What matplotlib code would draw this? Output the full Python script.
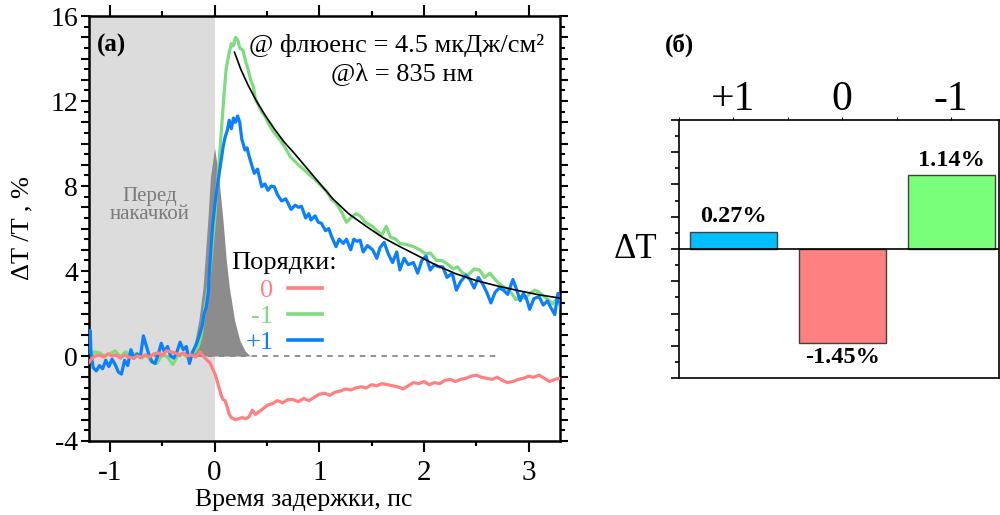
import numpy as np
import matplotlib
matplotlib.use("Agg")
import matplotlib.pyplot as plt
from matplotlib.ticker import MultipleLocator, FuncFormatter
from matplotlib.lines import Line2D

plt.rcParams['font.family'] = ['Liberation Serif', 'DejaVu Serif']
plt.rcParams['axes.unicode_minus'] = False

# --- данные (a): кривые ΔT/T, %, по времени задержки, пс ---
green_pts = [(-1.19, -0.1), (-1.15, 0.2), (-1.1, 0.15), (-1.05, 0.0), (-1.0, 0.1), (-0.95, 0.25),
             (-0.9, -0.05), (-0.85, 0.2), (-0.8, 0.05), (-0.75, 0.1), (-0.7, -0.1), (-0.65, 0.05),
             (-0.6, -0.3), (-0.55, -0.35), (-0.5, 0.1), (-0.45, -0.05), (-0.4, -0.4), (-0.35, 0.05),
             (-0.3, 0.1), (-0.25, -0.1), (-0.2, 0.15), (-0.16, 0.4), (-0.13, 0.9), (-0.1, 2.0),
             (-0.06, 3.3), (-0.03, 4.8), (0.0, 6.4), (0.03, 8.3), (0.06, 10.3), (0.09, 12.3),
             (0.11, 13.5), (0.14, 14.3), (0.16, 14.7), (0.18, 14.6), (0.2, 15.0), (0.22, 14.9),
             (0.24, 14.5), (0.27, 14.4), (0.3, 13.8), (0.32, 13.5), (0.35, 12.9), (0.37, 12.7),
             (0.39, 12.1), (0.41, 11.9), (0.45, 11.5), (0.48, 11.3), (0.52, 10.9), (0.57, 10.5),
             (0.62, 10.2), (0.67, 9.85), (0.72, 9.4), (0.76, 9.2), (0.81, 8.95), (0.86, 8.75),
             (0.9, 8.55), (0.94, 8.4), (0.98, 8.2), (1.02, 8.0), (1.07, 7.75), (1.12, 7.35),
             (1.16, 7.2), (1.21, 6.8), (1.26, 6.3), (1.3, 6.5), (1.35, 6.7), (1.39, 6.6),
             (1.44, 6.3), (1.51, 6.1), (1.55, 5.9), (1.6, 5.7), (1.64, 6.1), (1.68, 5.6),
             (1.73, 5.5), (1.77, 5.3), (1.83, 5.25), (1.9, 5.15), (1.96, 5.0), (2.02, 4.8),
             (2.06, 4.85), (2.12, 4.5), (2.17, 4.5), (2.22, 4.35), (2.28, 4.1), (2.32, 4.2),
             (2.37, 3.9), (2.42, 3.8), (2.48, 4.1), (2.53, 4.05), (2.58, 3.7), (2.63, 3.9),
             (2.68, 3.6), (2.72, 3.4), (2.78, 3.2), (2.83, 3.0), (2.88, 2.65), (2.93, 2.8),
             (2.97, 2.7), (3.01, 2.95), (3.06, 3.1), (3.1, 3.0), (3.15, 2.8), (3.2, 2.6),
             (3.23, 2.45), (3.27, 2.7), (3.31, 2.65)]

blue_pts = [(-1.2, 0.2), (-1.19, 1.2), (-1.18, 0.1), (-1.16, -0.55), (-1.13, -0.7), (-1.1, -0.45),
            (-1.07, -0.6), (-1.04, -0.2), (-1.01, -0.5), (-0.98, -0.15), (-0.95, -0.4), (-0.92, -0.75),
            (-0.89, -0.85), (-0.86, -0.2), (-0.83, -0.45), (-0.8, 0.3), (-0.77, -0.1), (-0.74, 0.1),
            (-0.71, -0.05), (-0.68, 0.95), (-0.66, 0.6), (-0.63, 0.1), (-0.6, -0.25), (-0.57, -0.35),
            (-0.54, 0.05), (-0.51, 0.6), (-0.48, 0.2), (-0.45, 0.45), (-0.42, 0.0), (-0.39, -0.1),
            (-0.36, 0.2), (-0.33, 0.65), (-0.3, 0.3), (-0.27, 0.45), (-0.24, -0.35), (-0.21, 0.2),
            (-0.18, 0.5), (-0.15, 0.9), (-0.12, 1.4), (-0.1, 2.0), (-0.08, 2.3), (-0.06, 3.0),
            (-0.05, 4.0), (-0.02, 6.1), (0.0, 7.0), (0.02, 7.8), (0.05, 8.8), (0.08, 9.8),
            (0.1, 10.3), (0.12, 10.6), (0.14, 11.1), (0.16, 10.7), (0.18, 11.2), (0.2, 11.0),
            (0.22, 11.3), (0.24, 11.0), (0.26, 10.2), (0.29, 9.7), (0.31, 9.8), (0.33, 9.4),
            (0.36, 8.9), (0.38, 8.6), (0.41, 8.8), (0.45, 7.97), (0.48, 8.1), (0.51, 7.8),
            (0.54, 8.0), (0.57, 7.97), (0.6, 7.6), (0.64, 7.3), (0.68, 7.4), (0.73, 6.9),
            (0.77, 7.1), (0.8, 7.0), (0.83, 7.05), (0.87, 6.5), (0.9, 6.7), (0.92, 6.4),
            (0.96, 6.6), (0.99, 6.3), (1.02, 6.25), (1.06, 5.9), (1.09, 6.0), (1.12, 5.6),
            (1.16, 5.15), (1.19, 5.5), (1.23, 5.3), (1.26, 5.5), (1.3, 5.0), (1.33, 5.5),
            (1.36, 5.4), (1.39, 5.45), (1.42, 4.9), (1.46, 5.2), (1.51, 5.0), (1.55, 4.6),
            (1.58, 5.1), (1.62, 5.35), (1.66, 4.8), (1.7, 4.4), (1.74, 4.9), (1.77, 4.05),
            (1.81, 4.6), (1.85, 4.3), (1.9, 4.4), (1.94, 3.9), (1.98, 4.5), (2.02, 4.7),
            (2.06, 4.05), (2.1, 4.3), (2.14, 4.2), (2.18, 4.2), (2.22, 3.7), (2.27, 3.9),
            (2.31, 3.1), (2.35, 3.5), (2.4, 3.8), (2.44, 3.6), (2.48, 3.2), (2.52, 3.7),
            (2.56, 3.4), (2.6, 3.0), (2.64, 2.5), (2.68, 3.0), (2.72, 3.2), (2.76, 3.1),
            (2.8, 2.9), (2.85, 3.6), (2.88, 3.2), (2.92, 2.6), (2.95, 2.95), (2.98, 2.7),
            (3.01, 2.2), (3.05, 2.7), (3.1, 2.8), (3.14, 2.4), (3.18, 2.6), (3.21, 2.3),
            (3.25, 1.95), (3.28, 2.95), (3.31, 2.2)]

red_pts = [(-1.2, -0.3), (-1.17, -0.1), (-1.14, 0.0), (-1.1, 0.05), (-1.06, -0.05), (-1.02, 0.1),
           (-0.98, 0.0), (-0.94, 0.05), (-0.9, -0.1), (-0.86, 0.05), (-0.82, -0.05), (-0.78, -0.1),
           (-0.74, 0.0), (-0.7, -0.05), (-0.66, 0.05), (-0.62, -0.05), (-0.58, 0.1), (-0.54, 0.15),
           (-0.5, 0.0), (-0.46, 0.25), (-0.42, 0.2), (-0.38, 0.15), (-0.34, 0.05), (-0.3, 0.15),
           (-0.26, 0.0), (-0.22, 0.05), (-0.18, -0.05), (-0.14, 0.2), (-0.1, -0.05), (-0.07, -0.2),
           (-0.04, -0.35), (-0.02, -0.6), (0.0, -0.8), (0.02, -1.1), (0.04, -1.45), (0.06, -1.8),
           (0.08, -2.05), (0.1, -2.1), (0.12, -2.4), (0.14, -2.75), (0.16, -2.9), (0.18, -2.95),
           (0.2, -3.0), (0.23, -2.95), (0.26, -2.9), (0.3, -2.95), (0.33, -2.85), (0.36, -2.55),
           (0.39, -2.75), (0.43, -2.6), (0.47, -2.45), (0.51, -2.3), (0.55, -2.25), (0.6, -2.1),
           (0.65, -2.2), (0.7, -2.05), (0.75, -2.05), (0.8, -2.15), (0.85, -2.0), (0.9, -2.1),
           (0.95, -1.95), (1.0, -1.8), (1.05, -1.75), (1.1, -1.85), (1.15, -1.7), (1.2, -1.65),
           (1.25, -1.55), (1.3, -1.6), (1.35, -1.5), (1.4, -1.45), (1.45, -1.5), (1.5, -1.35),
           (1.55, -1.4), (1.6, -1.3), (1.65, -1.35), (1.7, -1.4), (1.75, -1.45), (1.8, -1.55),
           (1.85, -1.4), (1.9, -1.25), (1.95, -1.3), (2.0, -1.2), (2.05, -1.35), (2.1, -1.25),
           (2.15, -1.3), (2.2, -1.15), (2.25, -1.1), (2.3, -1.2), (2.35, -1.1), (2.4, -1.05),
           (2.45, -0.95), (2.5, -0.9), (2.55, -1.0), (2.6, -1.05), (2.65, -1.1), (2.7, -1.0),
           (2.75, -1.15), (2.8, -1.25), (2.85, -1.2), (2.9, -1.1), (2.95, -1.05), (3.0, -0.95),
           (3.05, -1.0), (3.1, -0.9), (3.15, -1.05), (3.2, -1.2), (3.25, -1.1), (3.3, -1.05)]

fit_pts = [(0.19, 14.3), (0.25, 13.5), (0.32, 12.75), (0.4, 12.0), (0.48, 11.35), (0.57, 10.7),
           (0.66, 10.1), (0.76, 9.55), (0.88, 8.85), (1.0, 8.15), (1.13, 7.4), (1.28, 6.7),
           (1.45, 6.1), (1.6, 5.6), (1.77, 5.15), (1.95, 4.7), (2.12, 4.27), (2.3, 3.88),
           (2.5, 3.55), (2.7, 3.3), (2.9, 3.08), (3.1, 2.88), (3.31, 2.72)]

pulse_t = [-0.24, -0.2, -0.15, -0.11, -0.065, -0.04, 0.0, 0.04, 0.08, 0.11, 0.14, 0.19, 0.24, 0.29, 0.34]
pulse_v = [0, 0.4, 1.7, 3.25, 6.4, 8.4, 9.8, 8.4, 6.4, 4.6, 3.25, 1.7, 0.75, 0.25, 0]

pre_pump = [-1.2, 0.0]
zero_line_t = [-1.2, 2.7]

order_labels = ['0', '-1', '+1']
order_colors = ['#ff8080', '#7ddc7d', '#0a80ff']

# --- данные (б): столбцы ---
bar_labels = ['+1', '0', '-1']
bar_values = [0.27, -1.45, 1.14]
bar_text = ['0.27%', '-1.45%', '1.14%']
bar_colors = ['#00bfff', '#ff8080', '#7aff7a']

green_t, green_v = np.array(green_pts).T
blue_t, blue_v = np.array(blue_pts).T
red_t, red_v = np.array(red_pts).T
fit_t, fit_v = np.array(fit_pts).T

fig = plt.figure(figsize=(10, 5.15), dpi=100)

# ---------- (a) ----------
ax = fig.add_axes([0.089, 0.1437, 0.471, 0.825])
ax.axvspan(pre_pump[0], pre_pump[1], color='#dcdcdc', lw=0, zorder=0)
ax.fill_between(pulse_t, pulse_v, 0, color='#8c8c8c', lw=0, zorder=1)
ax.plot(zero_line_t, [0, 0], color='#888888', lw=1.3, ls=(0, (3, 3)), zorder=1.5)
ax.plot(green_t, green_v, color=order_colors[1], lw=2.3, zorder=2)
ax.plot(blue_t, blue_v, color=order_colors[2], lw=2.3, zorder=3)
ax.plot(red_t, red_v, color=order_colors[0], lw=2.3, zorder=4)
ax.plot(fit_t, fit_v, color='black', lw=1.2, zorder=5)

ax.set_xlim(-1.2, 3.3)
ax.set_ylim(-4, 16)
ax.set_xticks([-1, 0, 1, 2, 3])
ax.xaxis.set_minor_locator(MultipleLocator(0.5))
ax.yaxis.set_major_locator(MultipleLocator(1))
ax.yaxis.set_minor_locator(MultipleLocator(0.5))
ax.yaxis.set_major_formatter(FuncFormatter(lambda v, p: f'{v:.0f}' if round(v) % 4 == 0 else ''))
ax.tick_params(which='both', direction='out', top=True, right=True, width=1.5)
ax.tick_params(which='major', length=6, labelsize=20, pad=2)
ax.tick_params(which='minor', length=3.5)
ax.tick_params(axis='x', which='major', length=8, labelsize=21, pad=6)
for s in ax.spines.values():
    s.set_linewidth(1.8)

ax.set_xlabel('Время задержки, пс', fontsize=18.5)
ax.xaxis.set_label_coords(0.456, -0.112)
ax.set_ylabel('ΔT /T , %', fontsize=19)
ax.yaxis.set_label_coords(-0.118, 0.5)

ax.text(0.017, 0.932, '(a)', transform=ax.transAxes, fontsize=18, fontweight='bold',
        ha='left', va='center')
ax.text(0.654, 0.932, '@ флюенс = 4.5 мкДж/см²', transform=ax.transAxes, fontsize=19,
        ha='center', va='center')
ax.text(0.665, 0.866, '@λ = 835 нм', transform=ax.transAxes, fontsize=19,
        ha='center', va='center')
ax.text(0.1295, 0.555, 'Перед\nнакачкой', transform=ax.transAxes, fontsize=15,
        color='#7a7a7a', ha='center', va='center', linespacing=0.95)

# легенда: заголовок отдельно, строки выровнены вправо
ax.text(0.302, 0.419, 'Порядки:', transform=ax.transAxes, fontsize=19,
        ha='left', va='center')
handles = [Line2D([], [], color=c, lw=2.6) for c in order_colors]
leg = ax.legend(handles, order_labels, loc='upper right',
                bbox_to_anchor=(0.495, 0.383), frameon=False, markerfirst=False,
                labelcolor=order_colors, fontsize=19,
                handlelength=1.3, handletextpad=0.55, labelspacing=0.1,
                borderpad=0, borderaxespad=0)

# ---------- (б) ----------
ax2 = fig.add_axes([0.679, 0.266, 0.32, 0.501])
pos = np.arange(len(bar_values))
bars = ax2.bar(pos, bar_values, width=0.8, color=bar_colors, edgecolor='#404040', lw=1, zorder=2)
ax2.axhline(0, color='black', lw=1.2, zorder=3)
ax2.bar_label(bars, labels=bar_text, padding=3, fontsize=17.5, fontweight='bold')
ax2.set_xlim(-0.5, 2.44)
ax2.set_ylim(-2, 2)
ax2.xaxis.tick_top()
ax2.set_xticks(pos, bar_labels)
ax2.xaxis.set_minor_locator(MultipleLocator(0.5))
ax2.tick_params(axis='x', which='both', direction='out', length=2.5, labelsize=30, pad=-2)
ax2.yaxis.set_major_locator(MultipleLocator(0.5))
ax2.yaxis.set_minor_locator(MultipleLocator(0.25))
ax2.tick_params(axis='y', which='major', direction='out', length=6, width=1.2, labelleft=False)
ax2.tick_params(axis='y', which='minor', direction='out', length=3, width=1.2)
ax2.set_ylabel('ΔT', fontsize=25, rotation=0, ha='center', va='center')
ax2.yaxis.set_label_coords(-0.1375, 0.5)
for s in ax2.spines.values():
    s.set_linewidth(1.2)

fig.text(0.665, 0.913, '(б)', fontsize=18, fontweight='bold', ha='left', va='center')

fig.savefig('out.png', dpi=100)
